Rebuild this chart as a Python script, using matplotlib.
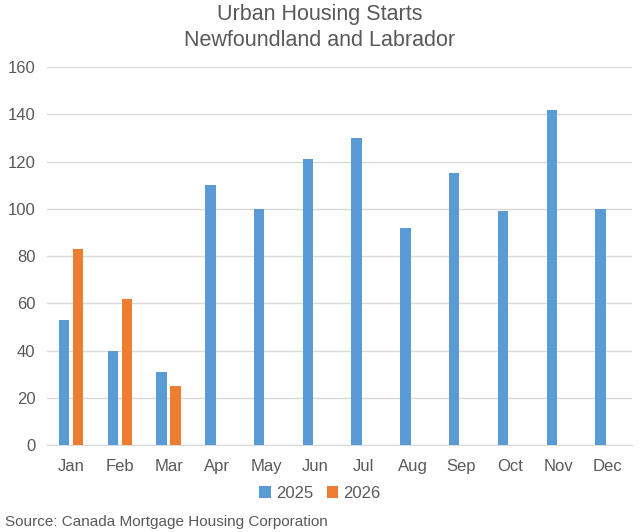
import numpy as np
import matplotlib
matplotlib.use('Agg')
import matplotlib.pyplot as plt

plt.rcParams['font.family'] = ['Liberation Sans', 'DejaVu Sans']

# 数据
months = ['Jan', 'Feb', 'Mar', 'Apr', 'May', 'Jun', 'Jul', 'Aug', 'Sep', 'Oct', 'Nov', 'Dec']
starts_2025 = [53, 40, 31, 110, 100, 121, 130, 92, 115, 99, 142, 100]
starts_2026 = [83, 62, 25]

grey = '#595959'

fig = plt.figure(figsize=(6.4, 5.32), dpi=100)
ax = fig.add_axes([0.073, 0.1635, 0.9145, 0.7105])

x = np.arange(len(months))
w = 0.215
ax.bar(x - 0.145, starts_2025, width=w, color='#5B9BD5', label='2025', zorder=3)
ax.bar(x[:len(starts_2026)] + 0.145, starts_2026, width=w, color='#ED7D31', label='2026', zorder=3)

ax.set_xlim(-0.5, len(months) - 0.5)
ax.set_ylim(0, 160)
ax.set_yticks(range(0, 161, 20))
ax.set_xticks(x)
ax.set_xticklabels(months)
ax.grid(axis='y', color='#D9D9D9', linewidth=1, zorder=0)
for s in ['top', 'right', 'left']:
    ax.spines[s].set_visible(False)
ax.spines['bottom'].set_color('#D9D9D9')
ax.tick_params(axis='both', length=0, labelsize=12, colors=grey)
ax.tick_params(axis='x', pad=10)
ax.tick_params(axis='y', pad=8)

fig.text(0.5, 0.993, 'Urban Housing Starts\nNewfoundland and Labrador', ha='center', va='top',
         fontsize=15.5, color=grey, linespacing=1.3)

fig.legend(loc='center', bbox_to_anchor=(0.5, 0.073), ncol=2, frameon=False, fontsize=12,
           handlelength=0.7, handleheight=0.7, handletextpad=0.3, columnspacing=0.8,
           labelcolor=grey)

fig.text(0.008, 0.006, 'Source: Canada Mortgage Housing Corporation', ha='left', va='bottom',
         fontsize=11, color=grey)

plt.savefig('out.png', dpi=100)
